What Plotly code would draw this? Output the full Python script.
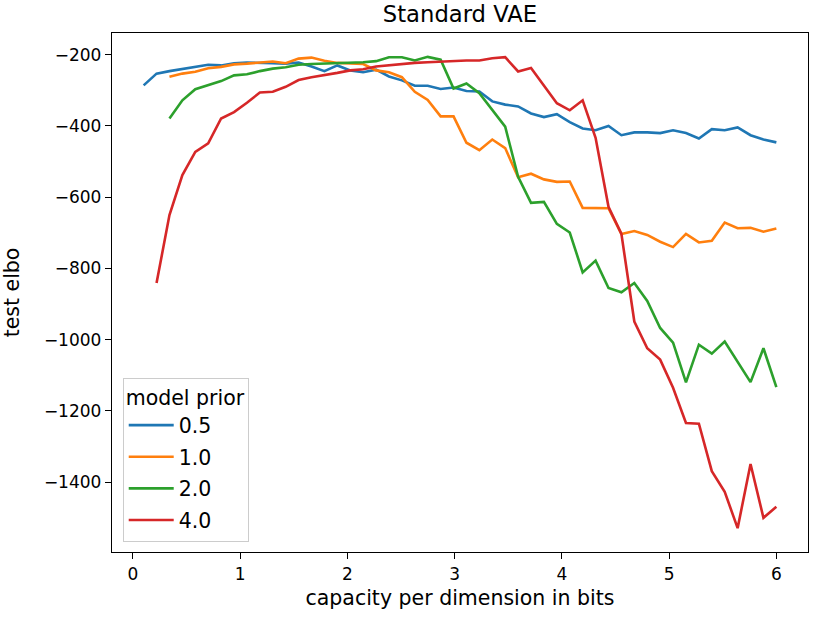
import numpy as np
import plotly.graph_objects as go

# capacity grid (bits per dimension)
capacity = np.linspace(0.1, 6.0, 50)

series_names = ["0.5", "1.0", "2.0", "4.0"]
series_colors = ["#1f77b4", "#ff7f0e", "#2ca02c", "#d62728"]
# index in capacity grid where each series starts
series_start = [0, 2, 2, 1]

elbo_05 = [-286, -253, -246, -240, -235, -228, -230, -224, -222, -222,
           -224, -225, -222, -233, -246, -230, -244, -249, -242, -261,
           -272, -287, -287, -296, -292, -302, -303, -331, -340, -345,
           -365, -375, -367, -389, -407, -412, -400, -426, -418, -418,
           -420, -412, -420, -435, -409, -412, -404, -426, -438, -446]

elbo_10 = [-262, -253, -248, -238, -234, -227, -225, -222, -219, -224,
           -211, -208, -217, -223, -225, -226, -244, -249, -263, -304,
           -327, -373, -373, -447, -468, -438, -462, -544, -534, -550,
           -557, -556, -630, -631, -631, -703, -695, -706, -725, -740,
           -703, -727, -722, -671, -687, -686, -697, -688]

elbo_20 = [-379, -328, -297, -286, -274, -258, -255, -246, -239, -235,
           -228, -226, -225, -224, -222, -221, -218, -207, -207, -216,
           -206, -214, -295, -281, -308, -354, -402, -543, -616, -613,
           -675, -699, -811, -778, -855, -867, -841, -891, -967, -1008,
           -1120, -1014, -1039, -1005, -1061, -1119, -1024, -1133]

elbo_40 = [-841, -650, -538, -473, -449, -379, -361, -335, -306, -304,
           -290, -271, -263, -258, -251, -244, -241, -233, -229, -225,
           -223, -221, -219, -217, -216, -216, -210, -207, -247, -237,
           -286, -336, -356, -328, -433, -627, -703, -949, -1024, -1056,
           -1135, -1234, -1236, -1369, -1427, -1529, -1349, -1500, -1469]

series_values = [elbo_05, elbo_10, elbo_20, elbo_40]

title_text = "Standard VAE"
x_label = "capacity per dimension in bits"
y_label = "test elbo"
legend_title = "model prior"
x_ticks = [0, 1, 2, 3, 4, 5, 6]
y_ticks = [-1400, -1200, -1000, -800, -600, -400, -200]

FONT = "DejaVu Sans, Verdana, sans-serif"

fig = go.Figure()
for i, (name, color, start, vals) in enumerate(zip(series_names, series_colors, series_start, series_values)):
    xs = capacity[start:start + len(vals)]
    fig.add_trace(go.Scatter(
        x=xs, y=vals, mode="lines", name=name, legendgroup="g%d" % i,
        line=dict(color=color, width=2.6),
    ))

axis_common = dict(
    showline=True, linecolor="black", linewidth=1.4, mirror=True,
    ticks="outside", ticklen=6, tickwidth=1.4, tickcolor="black",
    showgrid=False, zeroline=False,
    tickfont=dict(family=FONT, size=17, color="black"),
)

fig.update_layout(
    width=813, height=617,
    margin=dict(l=112, r=5, t=33, b=65),
    paper_bgcolor="white", plot_bgcolor="white",
    font=dict(family=FONT, size=17, color="black"),
    title=dict(text=title_text, x=0.5, xref="paper", xanchor="center",
               y=1, yref="paper", yanchor="bottom", pad=dict(b=11),
               font=dict(family=FONT, size=22.7, color="black")),
    xaxis=dict(range=[-0.195, 6.295], tickvals=x_ticks,
               title=dict(text=x_label, standoff=8,
                          font=dict(family=FONT, size=20.5)),
               **axis_common),
    yaxis=dict(range=[-1596, -139], tickvals=y_ticks,
               title=dict(text=y_label, standoff=19,
                          font=dict(family=FONT, size=20.5)),
               **axis_common),
    legend=dict(
        title=dict(text=legend_title, font=dict(family=FONT, size=20.5)),
        x=0.0154, y=0.02, xanchor="left", yanchor="bottom",
        bgcolor="rgba(255,255,255,0.8)", bordercolor="#cccccc", borderwidth=1,
        font=dict(family=FONT, size=20.5), itemwidth=45,
        tracegroupgap=2,
    ),
    showlegend=True,
)

fig.write_html("out.html")
